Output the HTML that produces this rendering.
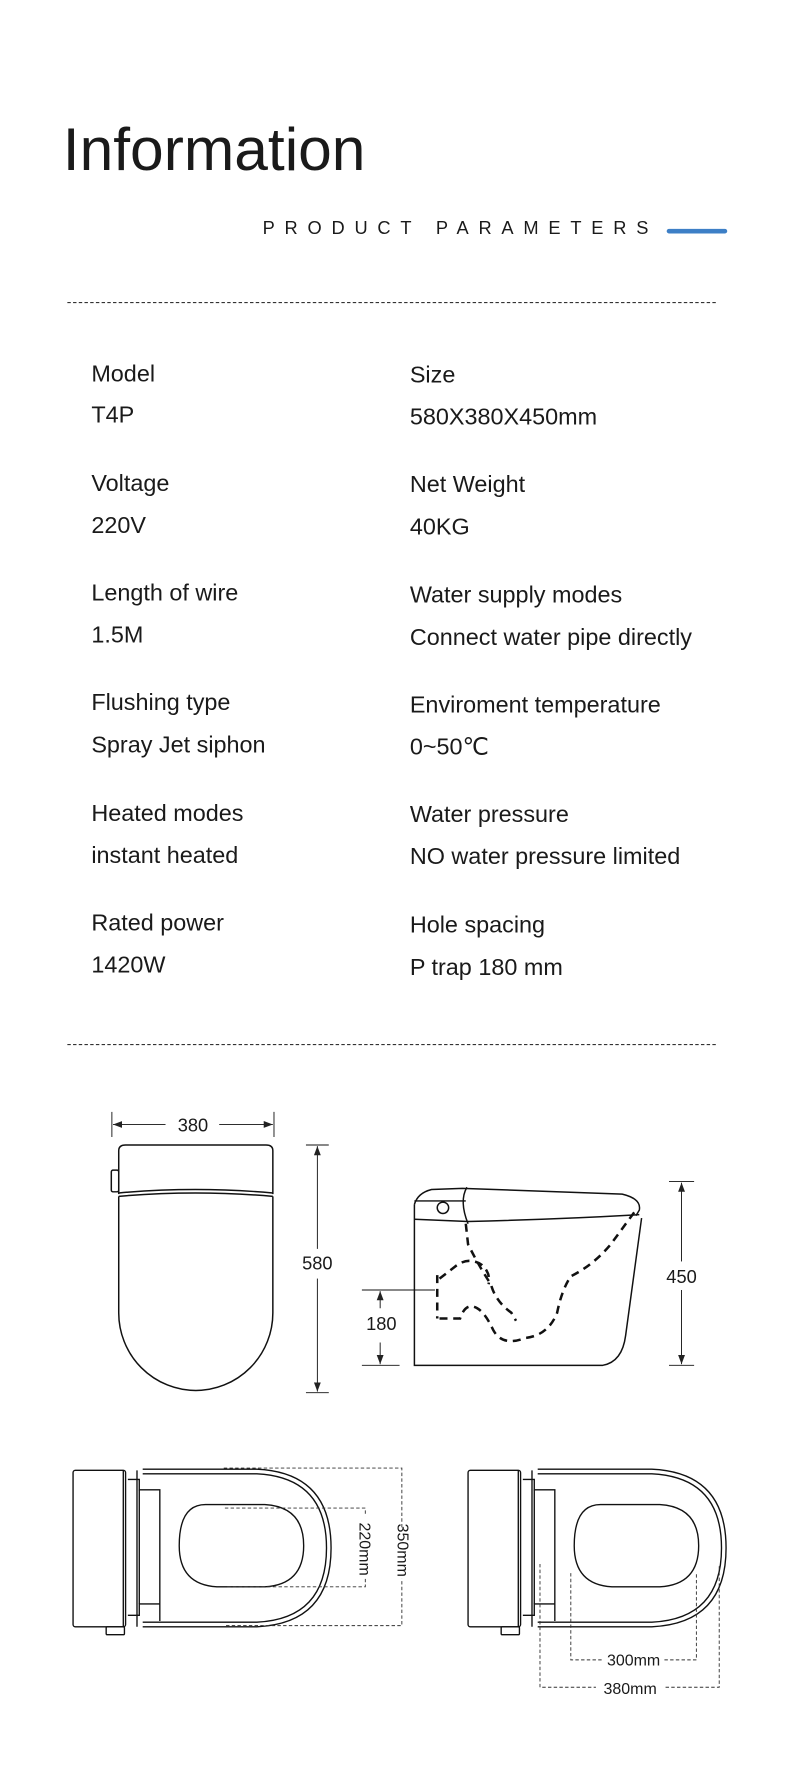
<!DOCTYPE html>
<html><head><meta charset="utf-8"><style>
html,body{margin:0;padding:0;background:#fff;}
svg{display:block;}
text{font-family:"Liberation Sans",sans-serif;fill:#1a1a1a;}
</style></head><body>
<svg width="790" height="1790" viewBox="0 0 692 1568" preserveAspectRatio="none" xmlns="http://www.w3.org/2000/svg">
<defs>
<marker id="ar" markerWidth="8" markerHeight="6" refX="8" refY="3" orient="auto" markerUnits="userSpaceOnUse"><path d="M0,0 L8,3 L0,6 z" fill="#222"/></marker>
</defs>
<text x="55" y="149" font-size="53">Information</text>
<text x="230" y="205" font-size="16" textLength="338" lengthAdjust="spacing">PRODUCT PARAMETERS</text>
<line x1="586" y1="202.5" x2="635" y2="202.5" stroke="#3d7fc6" stroke-width="4" stroke-linecap="round"/>
<line x1="59" y1="265" x2="628" y2="265" stroke="#333" stroke-width="1" stroke-dasharray="3,2"/>
<g font-size="20.5">
<text x="80" y="334">Model</text><text x="80" y="370">T4P</text>
<text x="80" y="430">Voltage</text><text x="80" y="467">220V</text>
<text x="80" y="526">Length of wire</text><text x="80" y="563">1.5M</text>
<text x="80" y="622">Flushing type</text><text x="80" y="659">Spray Jet siphon</text>
<text x="80" y="719">Heated modes</text><text x="80" y="756">instant heated</text>
<text x="80" y="815">Rated power</text><text x="80" y="852">1420W</text>
<text x="359" y="335">Size</text><text x="359" y="372">580X380X450mm</text>
<text x="359" y="431">Net Weight</text><text x="359" y="468">40KG</text>
<text x="359" y="528">Water supply modes</text><text x="359" y="565">Connect water pipe directly</text>
<text x="359" y="624">Enviroment temperature</text><text x="359" y="661">0~50℃</text>
<text x="359" y="720">Water pressure</text><text x="359" y="757">NO water pressure limited</text>
<text x="359" y="817">Hole spacing</text><text x="359" y="854">P trap 180 mm</text>
</g>
<line x1="59" y1="915" x2="628" y2="915" stroke="#333" stroke-width="1" stroke-dasharray="3,2"/>

<g fill="none" stroke="#111" stroke-width="1.3">
<line x1="98" y1="974" x2="98" y2="996" stroke-width="0.8"/>
<line x1="240" y1="974" x2="240" y2="996" stroke-width="0.8"/>
<line x1="145" y1="985" x2="99" y2="985" stroke-width="0.8" marker-end="url(#ar)"/>
<line x1="192" y1="985" x2="239" y2="985" stroke-width="0.8" marker-end="url(#ar)"/>
<path d="M104,1046 L104,1008 Q104,1003 110,1003 L233,1003 Q239,1003 239,1008 L239,1046"/>
<path d="M104,1045 Q171,1039 239,1045 M104,1048 Q171,1042 239,1048"/>
<path d="M104,1048 L104,1150 A67.5,68 0 0 0 239,1150 L239,1048"/>
<rect x="97.5" y="1025" width="6.5" height="19" rx="1.5"/>
<line x1="268" y1="1003" x2="288" y2="1003" stroke-width="0.8"/>
<line x1="268" y1="1220" x2="288" y2="1220" stroke-width="0.8"/>
<line x1="278" y1="1094" x2="278" y2="1004" stroke-width="0.8" marker-end="url(#ar)"/>
<line x1="278" y1="1120" x2="278" y2="1219" stroke-width="0.8" marker-end="url(#ar)"/>
<path d="M363,1055 L363,1196 L528,1196 Q545,1193 548,1170 L562,1067"/>
<path d="M363,1055 Q366,1045 378,1042 L405,1041 L545,1046 Q562,1050 560,1060 L557,1065"/>
<path d="M363,1052 L408,1052 M363,1068 L410,1070 Q490,1068 560,1064"/>
<path d="M409,1040 Q402,1052 410,1072"/>
<circle cx="388" cy="1058" r="5"/>
<g stroke-dasharray="7,5" stroke-width="2.2">
<path d="M408,1072 L410,1090 Q420,1110 430,1125 Q434,1140 448,1150 L452,1157"/>
<path d="M385,1120 L398,1110 Q410,1100 422,1108 Q430,1115 428,1125"/>
<path d="M385,1155 L403,1155 Q408,1140 418,1146 Q425,1150 432,1165 Q440,1180 460,1172 Q480,1170 488,1150 Q492,1130 500,1118 Q520,1108 535,1090 L557,1060"/>
<path d="M383,1117 L383,1155"/>
</g>
<line x1="317" y1="1130" x2="381" y2="1130" stroke-width="0.8"/>
<line x1="317" y1="1196" x2="350" y2="1196" stroke-width="0.8"/>
<line x1="333" y1="1146" x2="333" y2="1131" stroke-width="0.8" marker-end="url(#ar)"/>
<line x1="333" y1="1176" x2="333" y2="1195" stroke-width="0.8" marker-end="url(#ar)"/>
<line x1="586" y1="1035" x2="608" y2="1035" stroke-width="0.8"/>
<line x1="586" y1="1196" x2="608" y2="1196" stroke-width="0.8"/>
<line x1="597" y1="1105" x2="597" y2="1036" stroke-width="0.8" marker-end="url(#ar)"/>
<line x1="597" y1="1130" x2="597" y2="1195" stroke-width="0.8" marker-end="url(#ar)"/>
</g>
<g font-size="16" text-anchor="middle">
<text x="169" y="991">380</text>
<text x="278" y="1112">580</text>
<text x="334" y="1165">180</text>
<text x="597" y="1124">450</text>
</g>

<g id="tv" fill="none" stroke="#111" stroke-width="1.2">
<rect x="64" y="1288" width="46" height="137" rx="2"/>
<path d="M108,1288 L108,1425 M120,1288 L120,1425"/>
<path d="M112,1296 L122,1296 L122,1305 L140,1305 L140,1420 M112,1415 L122,1415 L122,1405 L140,1405"/>
<path d="M122,1305 L122,1405"/>
<path d="M125,1287 L225,1287 Q290,1290 290,1356 Q290,1422 225,1425 L125,1425"/>
<path d="M125,1291 L225,1291 Q286,1294 286,1356 Q286,1418 225,1421 L125,1421"/>
<path d="M180,1318 L232,1318 Q266,1320 266,1354 Q266,1388 232,1390 L190,1390 Q157,1388 157,1354 Q157,1318 180,1318 Z"/>
<rect x="93" y="1425" width="16" height="7" rx="1"/>
</g>
<use href="#tv" x="346"/>
<g fill="none" stroke="#333" stroke-width="0.8" stroke-dasharray="3,2">
<path d="M196,1286 L352,1286 L352,1424 L196,1424"/>
<path d="M197,1321 L320,1321 L320,1390 L197,1390"/>
<path d="M500,1378 L500,1454 L528,1454 M582,1454 L610,1454 L610,1378"/>
<path d="M473,1370 L473,1478 L522,1478 M583,1478 L630,1478 L630,1370"/>
</g>
<rect x="346" y="1338" width="13" height="45" fill="#fff"/>
<rect x="313" y="1328" width="13" height="55" fill="#fff"/>
<g font-size="14" text-anchor="middle">
<text transform="translate(348,1358) rotate(90)">350mm</text>
<text transform="translate(315,1357) rotate(90)">220mm</text>
<text x="555" y="1459">300mm</text>
<text x="552" y="1484">380mm</text>
</g>
</svg>
</body></html>
